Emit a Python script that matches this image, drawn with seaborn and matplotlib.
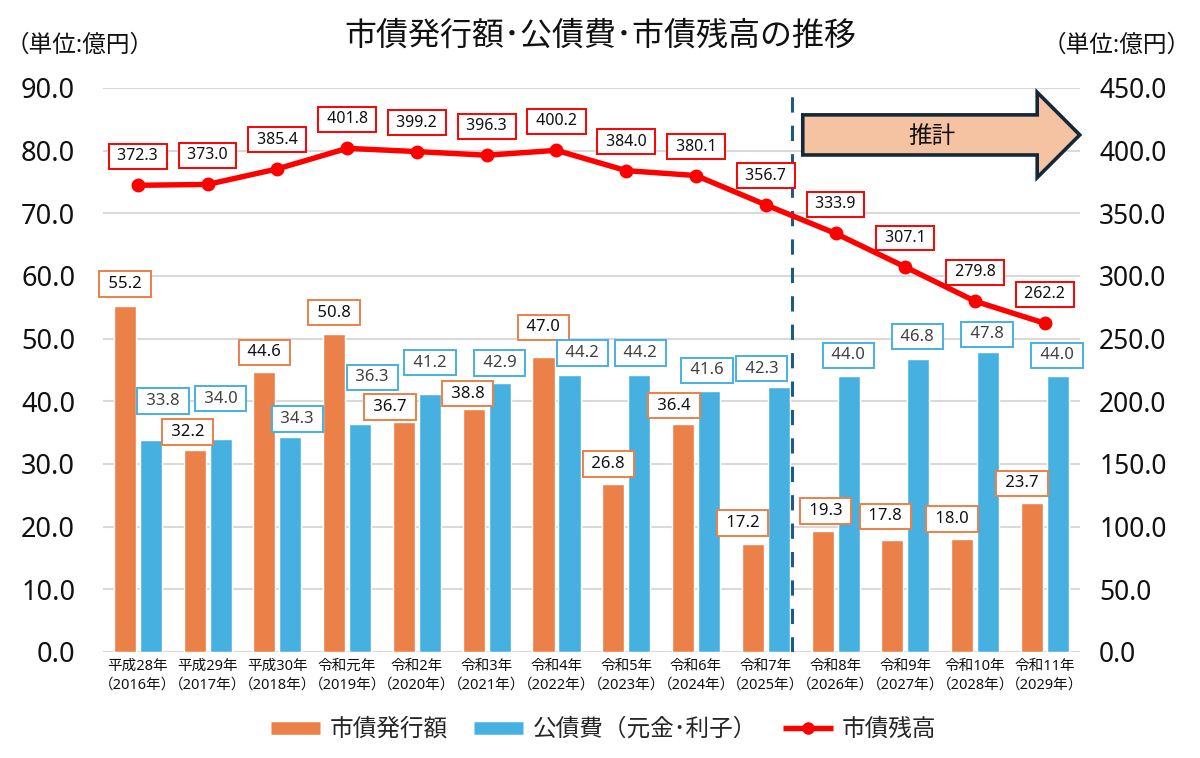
import numpy as np
import pandas as pd
import matplotlib.pyplot as plt
import seaborn as sns
from matplotlib.lines import Line2D
from matplotlib.patches import FancyArrow

# data (億円)
years = ['平成28年\n（2016年）', '平成29年\n（2017年）', '平成30年\n（2018年）', '令和元年\n（2019年）',
         '令和2年\n（2020年）', '令和3年\n（2021年）', '令和4年\n（2022年）', '令和5年\n（2023年）',
         '令和6年\n（2024年）', '令和7年\n（2025年）', '令和8年\n（2026年）', '令和9年\n（2027年）',
         '令和10年\n（2028年）', '令和11年\n（2029年）']
issuance = [55.2, 32.2, 44.6, 50.8, 36.7, 38.8, 47.0, 26.8, 36.4, 17.2, 19.3, 17.8, 18.0, 23.7]
debt_service = [33.8, 34.0, 34.3, 36.3, 41.2, 42.9, 44.2, 44.2, 41.6, 42.3, 44.0, 46.8, 47.8, 44.0]
balance = [372.3, 373.0, 385.4, 401.8, 399.2, 396.3, 400.2, 384.0, 380.1, 356.7, 333.9, 307.1, 279.8, 262.2]
left_ticks = [0, 10, 20, 30, 40, 50, 60, 70, 80, 90]
right_ticks = [0, 50, 100, 150, 200, 250, 300, 350, 400, 450]
series_names = ['市債発行額', '公債費（元金･利子）', '市債残高']

# label nudges in pixels (the original boxes are placed by hand)
orange_dx = [0, -7, 0, 0, -14, -6, 0, -5, -9, -10, 3, -7, -10, -10]
orange_dy = [22, 18, 20, 21, 15, 15, 30, 20, 18, 21, 20, 24, 20, 20]
blue_dx = [12, 0, 7, 12, 0, 0, 13, 1, -2, -17, 0, -1, -1, -1]
blue_dy = [39, 40, 18, 47, 31, 20, 22, 22, 21, 18, 21, 22, 18, 21]

ORANGE = '#EB8049'
BLUE = '#46B1E1'
RED = '#FF0000'

sns.set_theme(style='white')
plt.rcParams['font.family'] = ['Noto Sans', 'Noto Sans CJK JP', 'DejaVu Sans']

df = pd.DataFrame({
    'year': years * 2,
    'series': [series_names[0]] * len(years) + [series_names[1]] * len(years),
    'value': issuance + debt_service,
})

fig = plt.figure(figsize=(12, 7.58), dpi=100)
ax = fig.add_axes([0.0858, 0.14, 0.814, 0.744])
ax2 = ax.twinx()

sns.barplot(data=df, x='year', y='value', hue='series', palette=[ORANGE, BLUE],
            width=0.745, gap=0.15, saturation=1, legend=False, ax=ax)
sns.lineplot(x=np.arange(len(years)), y=balance, color=RED, lw=3.9, marker='o',
             markersize=10, markeredgewidth=0, ax=ax2)

ax.set_xlim(-0.5, 13.5)
ax.set_ylim(0, 90)
ax2.set_ylim(0, 450)

ax.set_axisbelow(True)
ax.yaxis.grid(True, color='#D9D9D9', lw=1.5)
for a in (ax, ax2):
    for s in a.spines.values():
        s.set_visible(False)
    a.set_xlabel('')
    a.set_ylabel('')

ax.set_yticks(left_ticks)
ax.set_yticklabels([f'{v:.1f}' for v in left_ticks], fontsize=19.5, color='#111111')
ax2.set_yticks(right_ticks)
ax2.set_yticklabels([f'{v:.1f}' for v in right_ticks], fontsize=19, color='#111111')
ax.tick_params(axis='y', length=0, pad=20)
ax2.tick_params(axis='y', length=0, pad=14)
ax.set_xticks(range(len(years)))
ax.set_xticklabels(years, fontsize=10.5, linespacing=1.35, color='#111111')
ax.tick_params(axis='x', length=0, pad=5)

# forecast divider
ax.axvline(9.37, color='#1F5A82', lw=2.2, ls=(0, (5, 4.3)))


def box(edge):
    return dict(boxstyle='square,pad=0.28', fc='white', ec=edge, lw=1.4)


for bar, v, dx, dy in zip(ax.containers[0], issuance, orange_dx, orange_dy):
    ax.annotate(f' {v:.1f} ', (bar.get_x() + bar.get_width() / 2, bar.get_height()),
                xytext=(dx, dy), textcoords='offset pixels', ha='center', va='center',
                fontsize=12, color='#111111', bbox=box(ORANGE), zorder=4)
for bar, v, dx, dy in zip(ax.containers[1], debt_service, blue_dx, blue_dy):
    ax.annotate(f' {v:.1f} ', (bar.get_x() + bar.get_width() / 2, bar.get_height()),
                xytext=(dx, dy), textcoords='offset pixels', ha='center', va='center',
                fontsize=12, color='#404040', bbox=box(BLUE), zorder=4)
for i, v in enumerate(balance):
    ax2.annotate(f' {v:.1f} ', (i, v), xytext=(0, 29), textcoords='offset pixels',
                 ha='center', va='center', fontsize=11.5, color='#111111', bbox=box(RED))

# "推計" arrow
arrow = FancyArrow(9.53, 82.5, 3.97, 0, width=6.4, head_width=13.6, head_length=0.61,
                   length_includes_head=True, fc='#F5C3A2', ec='#14283A', lw=2.6,
                   clip_on=False, zorder=5)
ax.add_patch(arrow)
ax.text(11.38, 82.2, '推計', ha='center', va='center', fontsize=17, color='#111111', zorder=6)

fig.text(0.5, 0.952, '市債発行額･公債費･市債残高の推移', ha='center', va='center',
         fontsize=23, color='#111111')
fig.text(0.005, 0.94, '（単位:億円）', ha='left', va='center', fontsize=17, color='#111111')
fig.text(0.992, 0.94, '（単位:億円）', ha='right', va='center', fontsize=17, color='#111111')

handles = [Line2D([0], [0], color=ORANGE, lw=9, solid_capstyle='butt'),
           Line2D([0], [0], color=BLUE, lw=9, solid_capstyle='butt'),
           Line2D([0], [0], color=RED, lw=3.9, marker='o', markersize=9, markeredgewidth=0,
                  solid_capstyle='butt')]
fig.legend(handles, series_names, loc='center', bbox_to_anchor=(0.503, 0.037), ncol=3,
           frameon=False, fontsize=17, handlelength=2.1, handletextpad=0.4, columnspacing=1.1)

fig.savefig('out.png', dpi=100)
